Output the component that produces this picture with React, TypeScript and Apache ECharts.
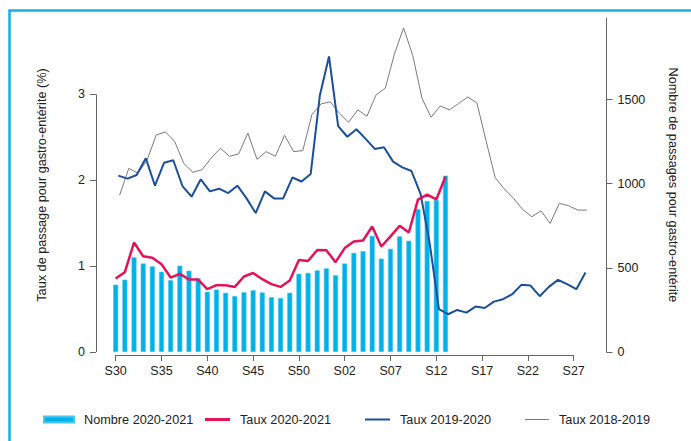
import React, { useEffect, useRef } from "react";
import * as echarts from "echarts";

// Weeks of the 2020-2021 season (2020 has a week 53)
const WEEKS = [
  "S30", "S31", "S32", "S33", "S34", "S35", "S36", "S37", "S38", "S39",
  "S40", "S41", "S42", "S43", "S44", "S45", "S46", "S47", "S48", "S49",
  "S50", "S51", "S52", "S53", "S01", "S02", "S03", "S04", "S05", "S06",
  "S07", "S08", "S09", "S10", "S11", "S12", "S13", "S14", "S15", "S16",
  "S17", "S18", "S19", "S20", "S21", "S22", "S23", "S24", "S25", "S26",
  "S27", "S28",
];
const TICK_LABELS = ["S30", "S35", "S40", "S45", "S50", "S02", "S07", "S12", "S17", "S22", "S27"];
const LEFT_TICKS = [0, 1, 2, 3];
const RIGHT_TICKS = [0, 500, 1000, 1500];

const NOMBRE_2020_2021 = [
  400, 430, 563, 526, 509, 477, 427, 513, 483, 438,
  358, 371, 352, 333, 355, 367, 354, 326, 321, 352,
  465, 470, 485, 497, 456, 526, 589, 599, 690, 555,
  613, 687, 661, 849, 898, 904, 1048,
];
const TAUX_2020_2021 = [
  0.855, 0.93, 1.275, 1.115, 1.097, 1.023, 0.867, 0.91, 0.844, 0.844,
  0.733, 0.778, 0.778, 0.758, 0.879, 0.92, 0.848, 0.79, 0.758, 0.832,
  1.072, 1.06, 1.188, 1.186, 1.046, 1.21, 1.287, 1.299, 1.462, 1.229,
  1.346, 1.47, 1.392, 1.774, 1.832, 1.777, 2.042,
];
const TAUX_2019_2020 = [
  2.054, 2.019, 2.062, 2.256, 1.937, 2.205, 2.233, 1.933, 1.809, 2.011,
  1.871, 1.902, 1.851, 1.937, 1.789, 1.618, 1.871, 1.789, 1.789, 2.032,
  1.986, 2.073, 2.987, 3.442, 2.63, 2.507, 2.594, 2.482, 2.365, 2.384,
  2.217, 2.151, 2.108, 1.84, 1.26, 0.5, 0.44, 0.49, 0.459, 0.529,
  0.513, 0.587, 0.615, 0.673, 0.782, 0.774, 0.65, 0.758, 0.84, 0.79,
  0.731, 0.926,
];
const TAUX_2018_2019 = [
  1.826, 2.139, 2.083, 2.235, 2.528, 2.563, 2.454, 2.197, 2.093, 2.124,
  2.26, 2.373, 2.279, 2.307, 2.55, 2.244, 2.334, 2.279, 2.524, 2.334,
  2.345, 2.768, 2.89, 2.913, 2.78, 2.676, 2.82, 2.746, 2.995, 3.073,
  3.47, 3.775, 3.454, 2.958, 2.734, 2.866, 2.82, 2.893, 2.97, 2.902,
  2.462, 2.03, 1.898, 1.79, 1.66, 1.575, 1.645, 1.497, 1.731, 1.704,
  1.653, 1.653,
];
// earlier seasons are plotted by calendar date: their weeks start a few days later
const SHIFT_2019_2020 = 2 / 7;
const SHIFT_2018_2019 = 3 / 7;

const FONT = "'Liberation Sans', Arial, Helvetica, sans-serif";
const AXIS_COLOR = "#666";
const TEXT_COLOR = "#222";
const X_MIN = -2.15;
const X_MAX = 53.58;

export default function App() {
  const ref = useRef<HTMLDivElement>(null);

  useEffect(() => {
    if (!ref.current) return;
    const chart = echarts.init(ref.current, undefined, { renderer: "svg" });
    const tickIdx = TICK_LABELS.map((l) => WEEKS.indexOf(l));
    const legendText = { fontSize: 12.7, color: TEXT_COLOR, fontFamily: FONT, padding: [0, 0, 0, 5] };

    const option: any = {
      animation: false,
      backgroundColor: "#fff",
      textStyle: { fontFamily: FONT },
      grid: { left: 96, right: 84.5, top: 18, bottom: 89, containLabel: false },
      xAxis: {
        type: "value",
        min: X_MIN,
        max: X_MAX,
        offset: 3,
        splitLine: { show: false },
        axisLine: { show: true, onZero: false, lineStyle: { opacity: 0 } },
        axisTick: {
          show: true,
          customValues: tickIdx,
          length: 6,
          lineStyle: { color: AXIS_COLOR, opacity: 1 },
        },
        axisLabel: {
          customValues: tickIdx,
          formatter: (v: number) => WEEKS[Math.round(v)] ?? "",
          color: TEXT_COLOR,
          fontSize: 12.5,
          fontFamily: FONT,
          margin: 9,
        },
      },
      yAxis: [
        {
          type: "value",
          min: 0,
          max: 3.89,
          position: "left",
          name: "Taux de passage pour gastro-entérite (%)",
          nameLocation: "middle",
          nameGap: 48,
          nameTextStyle: { fontSize: 12.7, color: TEXT_COLOR, fontFamily: FONT },
          splitLine: { show: false },
          axisLine: { show: true, onZero: false, lineStyle: { opacity: 0 } },
          axisTick: {
            show: true,
            customValues: LEFT_TICKS,
            length: 6,
            lineStyle: { color: AXIS_COLOR, opacity: 1 },
          },
          axisLabel: {
            customValues: LEFT_TICKS,
            formatter: (v: number) => String(v),
            color: TEXT_COLOR,
            fontSize: 12.5,
            fontFamily: FONT,
            margin: 11,
          },
        },
        {
          type: "value",
          min: 0,
          max: 1985,
          position: "right",
          name: "Nombre de passages pour gastro-entérite",
          nameLocation: "middle",
          nameRotate: -90,
          nameGap: 60,
          nameTextStyle: { fontSize: 12.7, color: TEXT_COLOR, fontFamily: FONT },
          splitLine: { show: false },
          axisLine: { show: true, onZero: false, lineStyle: { color: AXIS_COLOR, width: 1 } },
          axisTick: { show: true, customValues: RIGHT_TICKS, length: 6, lineStyle: { color: AXIS_COLOR } },
          axisLabel: {
            customValues: RIGHT_TICKS,
            formatter: (v: number) => String(v),
            color: TEXT_COLOR,
            fontSize: 12.5,
            fontFamily: FONT,
            margin: 11,
          },
        },
      ],
      legend: [
        {
          data: ["Nombre 2020-2021"], left: 38, top: 408, icon: "rect",
          itemWidth: 30, itemHeight: 6, selectedMode: false, textStyle: legendText,
        },
        {
          data: ["Taux 2020-2021"], left: 200, top: 408, icon: "rect",
          itemWidth: 25, itemHeight: 3, selectedMode: false, textStyle: legendText,
        },
        {
          data: ["Taux 2019-2020"], left: 360, top: 408, icon: "rect",
          itemWidth: 25, itemHeight: 2, selectedMode: false, textStyle: legendText,
        },
        {
          data: ["Taux 2018-2019"], left: 520, top: 408, icon: "rect",
          itemWidth: 24, itemHeight: 1, selectedMode: false, textStyle: legendText,
        },
      ],
      series: [
        {
          name: "Nombre 2020-2021",
          type: "bar",
          yAxisIndex: 1,
          barWidth: 5,
          data: NOMBRE_2020_2021.map((v, i) => [i, v]),
          itemStyle: { color: "#00b1e9", borderColor: "#4cc6f0", borderWidth: 0.6 },
        },
        {
          name: "Taux 2018-2019",
          type: "line",
          yAxisIndex: 0,
          symbol: "none",
          data: TAUX_2018_2019.map((v, i) => [i + SHIFT_2018_2019, v]),
          lineStyle: { color: "#7a7a7a", width: 1 },
          itemStyle: { color: "#7a7a7a" },
        },
        {
          name: "Taux 2019-2020",
          type: "line",
          yAxisIndex: 0,
          symbol: "none",
          data: TAUX_2019_2020.map((v, i) => [i + SHIFT_2019_2020, v]),
          lineStyle: { color: "#1b4f9c", width: 2 },
          itemStyle: { color: "#1b4f9c" },
        },
        {
          name: "Taux 2020-2021",
          type: "line",
          yAxisIndex: 0,
          symbol: "none",
          data: TAUX_2020_2021.map((v, i) => [i, v]),
          lineStyle: { color: "#e3125a", width: 2.5 },
          itemStyle: { color: "#e3125a" },
        },
      ],
    };
    chart.setOption(option);

    // axis lines drawn R-style: only between the first and last ticks
    const num = (v: any) => (Array.isArray(v) ? Number(v[0]) : Number(v));
    const xLeft = num(chart.convertToPixel({ xAxisIndex: 0 }, X_MIN));
    const x0 = num(chart.convertToPixel({ xAxisIndex: 0 }, tickIdx[0]));
    const x1 = num(chart.convertToPixel({ xAxisIndex: 0 }, tickIdx[tickIdx.length - 1]));
    const y0v = chart.convertToPixel({ yAxisIndex: 0 }, LEFT_TICKS[0]);
    const y3v = chart.convertToPixel({ yAxisIndex: 0 }, LEFT_TICKS[LEFT_TICKS.length - 1]);
    const y0 = Array.isArray(y0v) ? Number(y0v[1]) : Number(y0v);
    const y3 = Array.isArray(y3v) ? Number(y3v[1]) : Number(y3v);
    const xl = Math.round(xLeft) + 0.5;
    chart.setOption({
      graphic: [
        {
          type: "rect",
          silent: true,
          shape: { x: 9.5, y: 10.5, width: 800, height: 600 },
          style: { fill: "none", stroke: "#1aaee3", lineWidth: 2.5 },
        },
        {
          type: "polyline",
          silent: true,
          shape: { points: [[xl, y3], [xl, y0]] },
          style: { stroke: AXIS_COLOR, lineWidth: 1, fill: "none" },
        },
        {
          type: "polyline",
          silent: true,
          shape: { points: [[x0, Math.round(y0) + 3.5], [x1, Math.round(y0) + 3.5]] },
          style: { stroke: AXIS_COLOR, lineWidth: 1, fill: "none" },
        },
      ],
    });

    return () => chart.dispose();
  }, []);

  return (
    <div
      ref={ref}
      style={{ position: "fixed", left: 0, top: 0, width: 691, height: 441 }}
    />
  );
}
